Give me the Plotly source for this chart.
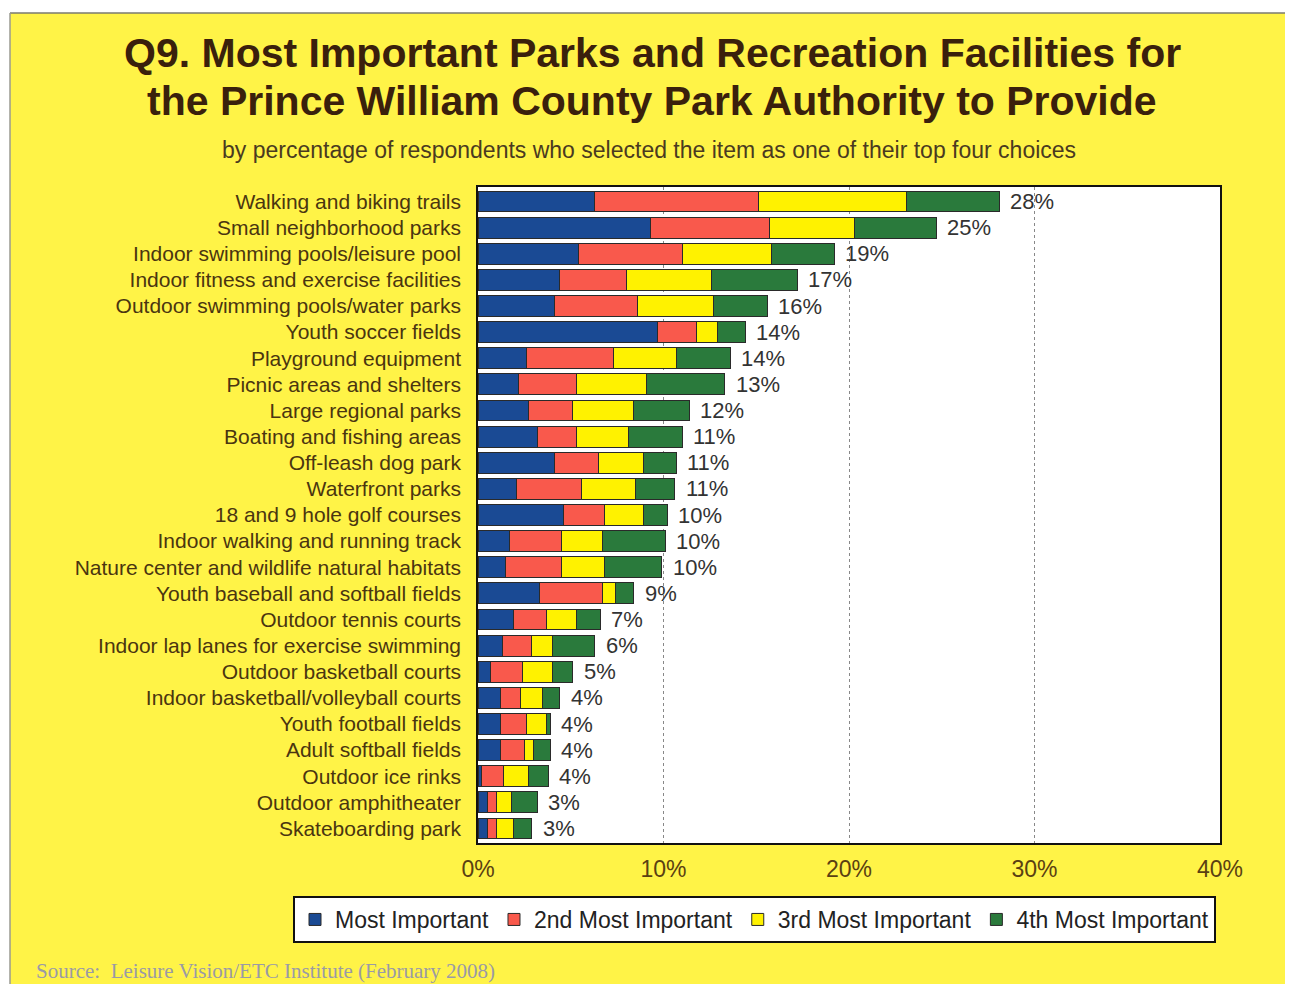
import plotly.graph_objects as go

categories = [
    "Walking and biking trails", "Small neighborhood parks",
    "Indoor swimming pools/leisure pool", "Indoor fitness and exercise facilities",
    "Outdoor swimming pools/water parks", "Youth soccer fields",
    "Playground equipment", "Picnic areas and shelters", "Large regional parks",
    "Boating and fishing areas", "Off-leash dog park", "Waterfront parks",
    "18 and 9 hole golf courses", "Indoor walking and running track",
    "Nature center and wildlife natural habitats", "Youth baseball and softball fields",
    "Outdoor tennis courts", "Indoor lap lanes for exercise swimming",
    "Outdoor basketball courts", "Indoor basketball/volleyball courts",
    "Youth football fields", "Adult softball fields", "Outdoor ice rinks",
    "Outdoor amphitheater", "Skateboarding park",
]
most_important = [6.3, 9.3, 5.4, 4.4, 4.1, 9.7, 2.6, 2.2, 2.7, 3.2, 4.1, 2.1, 4.6,
                  1.7, 1.5, 3.3, 1.9, 1.3, 0.7, 1.2, 1.2, 1.2, 0.2, 0.5, 0.5]
second_most = [8.8, 6.4, 5.6, 3.6, 4.5, 2.1, 4.7, 3.1, 2.4, 2.1, 2.4, 3.5, 2.2,
               2.8, 3.0, 3.4, 1.8, 1.6, 1.7, 1.1, 1.4, 1.3, 1.2, 0.5, 0.5]
third_most = [8.0, 4.6, 4.8, 4.6, 4.1, 1.1, 3.4, 3.8, 3.3, 2.8, 2.4, 2.9, 2.1,
              2.2, 2.3, 0.7, 1.6, 1.1, 1.6, 1.2, 1.1, 0.5, 1.3, 0.8, 0.9]
fourth_most = [5.0, 4.4, 3.4, 4.6, 2.9, 1.5, 2.9, 4.2, 3.0, 2.9, 1.8, 2.1, 1.3,
               3.4, 3.1, 1.0, 1.3, 2.3, 1.1, 0.9, 0.2, 0.9, 1.1, 1.4, 1.0]
total_labels = ["28%", "25%", "19%", "17%", "16%", "14%", "14%", "13%", "12%", "11%",
                "11%", "11%", "10%", "10%", "10%", "9%", "7%", "6%", "5%", "4%",
                "4%", "4%", "4%", "3%", "3%"]
series_names = ["Most Important", "2nd Most Important", "3rd Most Important", "4th Most Important"]
x_ticks = [0, 10, 20, 30, 40]
x_tick_labels = ["0%", "10%", "20%", "30%", "40%"]

colors = ["#1a4a94", "#f9594c", "#fff200", "#2a7a3c"]
series = [most_important, second_most, third_most, fourth_most]

OFF = 8  # page body margin
W, H = 1293 - OFF, 984 - OFF
# plot area in screenshot coords
SL, SR, ST, SB = 478, 1220, 187, 843
L, R, T, B = SL - OFF, SR - OFF, ST - OFF, SB - OFF
pw, ph = R - L, B - T
YELLOW = "#fff347"
FONT = "Liberation Sans, Arial"


def px(x):  # screenshot x -> paper
    return (x - OFF - L) / pw


def py(y):  # screenshot y -> paper
    return (B - (y - OFF)) / ph


fig = go.Figure()
for name, vals, col in zip(series_names, series, colors):
    fig.add_trace(go.Bar(
        y=categories, x=vals, name=name, orientation="h",
        marker=dict(color=col, line=dict(color="#2a2a2a", width=1)),
        hoverinfo="skip",
    ))

totals = [a + b + c + d for a, b, c, d in zip(*series)]
for cat, tot, lab in zip(categories, totals, total_labels):
    fig.add_annotation(x=tot, y=cat, text=lab, showarrow=False, xanchor="left",
                       xshift=9, font=dict(size=22, color="#333333", family=FONT))

# white strips above / left / right of the yellow page, plus thin grey border lines
fig.add_shape(type="rect", xref="paper", yref="paper", layer="below",
              x0=px(-20), x1=px(1320), y0=py(13), y1=py(-20),
              fillcolor="white", line=dict(width=0))
fig.add_shape(type="rect", xref="paper", yref="paper", layer="below",
              x0=px(-20), x1=px(10), y0=py(1000), y1=py(-20),
              fillcolor="white", line=dict(width=0))
fig.add_shape(type="rect", xref="paper", yref="paper", layer="below",
              x0=px(1290), x1=px(1320), y0=py(1000), y1=py(-20),
              fillcolor="white", line=dict(width=0))
fig.add_shape(type="line", xref="paper", yref="paper", layer="below",
              x0=px(10), x1=px(1290), y0=py(13), y1=py(13),
              line=dict(color="#7a7a70", width=1.5))
fig.add_shape(type="line", xref="paper", yref="paper", layer="below",
              x0=px(10), x1=px(10), y0=py(13), y1=py(990),
              line=dict(color="#9a9a90", width=1.5))
fig.add_shape(type="line", xref="paper", yref="paper", layer="below",
              x0=px(1290), x1=px(1290), y0=py(13), y1=py(990),
              line=dict(color="#9a9a90", width=1))

fig.add_annotation(xref="paper", yref="paper", x=px(652), y=py(53),
                   text="<b>Q9. Most Important Parks and Recreation Facilities for</b>",
                   showarrow=False, xanchor="center", yanchor="middle",
                   font=dict(size=41, color="#3a200c", family=FONT))
fig.add_annotation(xref="paper", yref="paper", x=px(652), y=py(101),
                   text="<b>the Prince William County Park Authority to Provide</b>",
                   showarrow=False, xanchor="center", yanchor="middle",
                   font=dict(size=41, color="#3a200c", family=FONT))
fig.add_annotation(xref="paper", yref="paper", x=px(649), y=py(150),
                   text="by percentage of respondents who selected the item as one of their top four choices",
                   showarrow=False, xanchor="center", yanchor="middle",
                   font=dict(size=23, color="#4a3a20", family=FONT))
fig.add_annotation(xref="paper", yref="paper", x=px(34), y=py(971),
                   text="Source:  Leisure Vision/ETC Institute (February 2008)",
                   showarrow=False, xanchor="left", yanchor="middle",
                   font=dict(size=21, color="#9a9aa6", family="Liberation Serif, Times New Roman"))

fig.update_layout(
    width=W, height=H,
    margin=dict(l=L, r=W - R, t=T, b=H - B, pad=0),
    paper_bgcolor=YELLOW, plot_bgcolor="white",
    barmode="stack", bargap=0.2,
    font=dict(family=FONT, color="#4a3510"),
    showlegend=True,
    legend=dict(orientation="h", x=px(293), y=py(896), xanchor="left", yanchor="top",
                bgcolor="white", bordercolor="#111111", borderwidth=2,
                font=dict(size=23, color="#222222"), traceorder="normal",
                itemwidth=30, tracegroupgap=0),
    xaxis=dict(range=[0, 40], tickvals=x_ticks, ticktext=x_tick_labels,
               showgrid=True, gridcolor="#888888", griddash="dot", gridwidth=1,
               showline=True, linecolor="#111111", linewidth=1.5, mirror=True,
               ticks="", tickfont=dict(size=23, color="#5a4012"), zeroline=False,
               ticklabelstandoff=5),
    yaxis=dict(autorange="reversed", showline=True, linecolor="#111111", linewidth=1.5,
               mirror=True, ticks="", tickfont=dict(size=21, color="#4a3510"),
               ticklabelstandoff=11),
)

fig.write_html("out.html")
